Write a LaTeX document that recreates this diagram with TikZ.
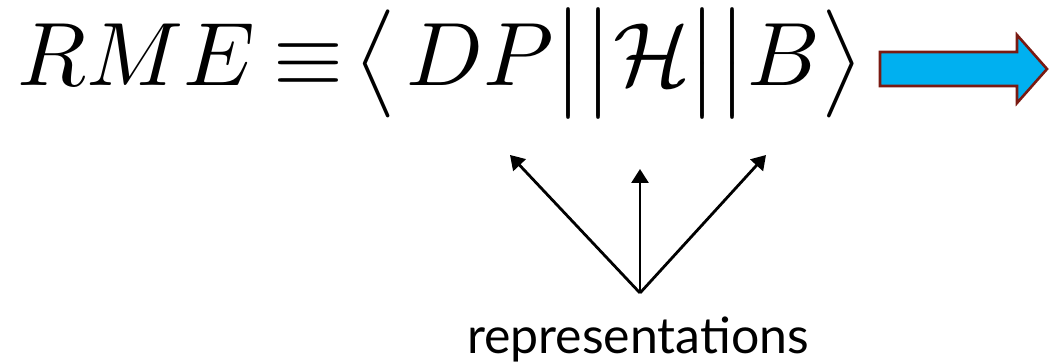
\documentclass[tikz,border=0pt]{standalone}
\usepackage{amsmath}
\usepackage{fontspec}
\newfontfamily\repfont{Lato}
\usepackage{tikz}
\usetikzlibrary{arrows.meta,positioning}
\setlength{\nulldelimiterspace}{0pt}
\definecolor{rmeInk}{HTML}{000000}
\definecolor{rmeBlue}{HTML}{00B0F0}
\definecolor{rmeRim}{HTML}{7A1A12}
\tikzset{
  eqn/.style={inner sep=0pt,anchor=base west,scale=4.5,
    font=\normalsize,text=rmeInk},
  lbl/.style={inner sep=0pt,anchor=base,
    font=\repfont\fontsize{25}{28}\selectfont,text=rmeInk},
  arr/.style={-{Triangle[length=7pt,width=8.5pt]},line width=1.4pt,color=rmeInk},
  blockarr/.style={fill=rmeBlue,draw=rmeRim,line width=1.3pt,line join=miter},
}
\begin{document}
\begin{tikzpicture}[x=0.5pt,y=-0.5pt]
  \useasboundingbox (0,0) rectangle (1050,362);
  \node[eqn] (rme) at (16,86)
    {$RME\hspace{2pt}{\equiv}\hspace{1.26pt}\bigl\langle\hspace{1pt}DP\big|\big|%
      \mathcal{H}\hspace{-0.3pt}\big|\big|B\bigr\rangle$};

  % block arrow to the right
  \draw[blockarr] (880,52) -- (1017,52) -- (1017,35) -- (1047,69)
    -- (1017,103) -- (1017,86) -- (880,86) -- cycle;

  % label and its arrows
  \node[lbl] (reps) at (638,354) {representations};
  \coordinate (fork) at (640,293);
  \coordinate (dpTip) at (510,155);
  \coordinate (hTip) at (640,169);
  \coordinate (bTip) at (766,155);

  \draw[arr] (fork) -- (dpTip);
  \draw[arr] (fork) -- (hTip);
  \draw[arr] (fork) -- (bTip);
\end{tikzpicture}
\end{document}
